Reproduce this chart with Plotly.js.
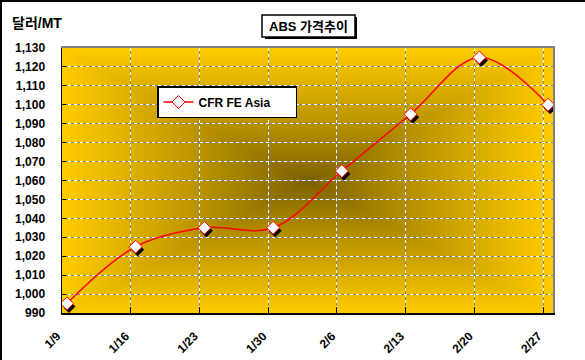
<!DOCTYPE html>
<html><head><meta charset="utf-8">
<script src="https://cdn.plot.ly/plotly-3.0.1.min.js"></script>
<style>
html,body{margin:0;padding:0;background:#fff;}
#wrap{position:relative;width:585px;height:360px;}
#chart{width:585px;height:360px;}
#frame{position:absolute;left:0;top:0;width:585px;height:360px;border-top:2px solid #000;border-left:2px solid #000;box-sizing:border-box;pointer-events:none;}
</style>
</head><body>
<div id="wrap"><div id="chart"></div><div id="frame"></div></div>
<script>
// ---- data ----
const tickDates = ['2008-01-09','2008-01-16','2008-01-23','2008-01-30','2008-02-06','2008-02-13','2008-02-20','2008-02-27'];
const tickLabels = ['1/9','1/16','1/23','1/30','2/6','2/13','2/20','2/27'];
const pointDates = ['2008-01-09 12:00','2008-01-16 12:00','2008-01-23 12:00','2008-01-30 12:00','2008-02-06 12:00','2008-02-13 12:00','2008-02-20 12:00','2008-02-27 12:00'];
const prices = [995, 1025, 1035, 1035, 1065, 1095, 1125, 1100];
const seriesName = 'CFR FE Asia';
const chartTitle = 'ABS 가격추이';
const yUnit = '달러/MT';
const xRange = ['2008-01-09','2008-02-28'];
const yRange = [990, 1130];

// ---- gradient background (rectangular "from center") ----
function gradientURL(w, h) {
  const c = document.createElement('canvas');
  c.width = w; c.height = h;
  const ctx = c.getContext('2d');
  const img = ctx.createImageData(w, h);
  const c0 = [122, 95, 0], c1 = [255, 204, 0];
  const cx = w / 2, cy = h / 2;
  for (let y = 0; y < h; y++) {
    for (let x = 0; x < w; x++) {
      let t = Math.max(Math.abs(x - cx) / cx, Math.abs(y - cy) / cy);
      t = Math.pow(Math.min(1, t), 0.9);
      const i = (y * w + x) * 4;
      img.data[i]   = c0[0] + (c1[0] - c0[0]) * t;
      img.data[i+1] = c0[1] + (c1[1] - c0[1]) * t;
      img.data[i+2] = c0[2] + (c1[2] - c0[2]) * t;
      img.data[i+3] = 255;
    }
  }
  ctx.putImageData(img, 0, 0);
  return c.toDataURL('image/png');
}

const W = 493, H = 268;
const px = v => (v - 62) / W;      // pixel -> paper x
const py = v => (316 - v) / H;     // pixel -> paper y
const FONT = '"Liberation Sans", Arial, "Noto Sans CJK KR", sans-serif';
const KFONT = '"Liberation Sans", "Noto Sans CJK KR", sans-serif';

const traces = [
  { // marker shadow (offset subplot)
    x: pointDates, y: prices, xaxis: 'x', yaxis: 'y', type: 'scatter', mode: 'markers',
    marker: { symbol: 'diamond', size: 10, color: '#000' },
    showlegend: false, hoverinfo: 'skip'
  },
  { // anchors the grid subplot (invisible)
    x: pointDates, y: prices, xaxis: 'x2', yaxis: 'y2', type: 'scatter', mode: 'markers',
    marker: { size: 1, opacity: 0 }, showlegend: false, hoverinfo: 'skip'
  },
  {
    x: pointDates, y: prices, xaxis: 'x3', yaxis: 'y3', type: 'scatter', mode: 'lines+markers',
    name: seriesName,
    line: { color: '#ff0000', width: 1.5, shape: 'spline', smoothing: 1 },
    marker: { symbol: 'diamond', size: 10, color: '#ffffff', line: { color: '#ff0000', width: 1 } }
  }
];

const layout = {
  width: 585, height: 360,
  margin: { l: 62, r: 30, t: 48, b: 44 },
  paper_bgcolor: '#ffffff', plot_bgcolor: 'rgba(0,0,0,0)',
  font: { family: FONT, color: '#000' },
  showlegend: true,
  xaxis: { domain: [2 / W, 1], anchor: 'y', type: 'date', range: xRange, visible: false },
  yaxis: { domain: [0, 1 - 3 / H], anchor: 'x', range: yRange, visible: false },
  xaxis2: {
    domain: [0, 491 / W], anchor: 'y2', type: 'date', range: xRange,
    tickmode: 'array', tickvals: tickDates, ticktext: tickLabels, tickangle: -45,
    showgrid: true, gridcolor: '#808080', gridwidth: 1,
    showline: true, linecolor: '#000', linewidth: 1.5,
    ticks: 'inside', ticklen: 6, tickcolor: '#000', tickwidth: 1,
    ticklabelstandoff: 10, ticklabelshift: -5,
    tickfont: { size: 12, weight: 'bold', family: FONT, color: '#000' }, zeroline: false
  },
  yaxis2: {
    domain: [3 / H, 1], anchor: 'x2', range: yRange, tickmode: 'linear', tick0: 990, dtick: 10,
    tickformat: ',', showgrid: true, gridcolor: '#808080', gridwidth: 1,
    showline: true, linecolor: '#000', linewidth: 1.5,
    ticks: 'inside', ticklen: 4, tickcolor: '#000',
    ticklabelstandoff: 13,
    tickfont: { size: 12, weight: 'bold', family: FONT, color: '#000' }, zeroline: false
  },
  xaxis3: {
    overlaying: 'x2', anchor: 'y3', side: 'top', type: 'date', range: xRange,
    tickmode: 'array', tickvals: tickDates, showticklabels: false, ticks: '',
    showgrid: true, gridcolor: '#ffffff', gridwidth: 1, griddash: '3px,3px',
    showline: true, linecolor: '#808080', linewidth: 2, zeroline: false
  },
  yaxis3: {
    overlaying: 'y2', anchor: 'x3', side: 'right', range: yRange, tickmode: 'linear', tick0: 990, dtick: 10,
    showticklabels: false, ticks: '',
    showgrid: true, gridcolor: '#ffffff', gridwidth: 1, griddash: '3px,3px',
    showline: true, linecolor: '#808080', linewidth: 2, zeroline: false
  },
  legend: {
    x: px(157), y: py(86), xanchor: 'left', yanchor: 'top', orientation: 'h',
    entrywidth: 92, bgcolor: '#ffffff', bordercolor: '#000', borderwidth: 1.5,
    font: { size: 12, weight: 'bold', family: FONT, color: '#000' }, itemwidth: 30
  },
  images: [{
    source: gradientURL(491, 265), xref: 'paper', yref: 'paper',
    x: 0, y: 1, sizex: 491 / W, sizey: 265 / H, xanchor: 'left', yanchor: 'top',
    sizing: 'stretch', layer: 'below'
  }],
  shapes: [
    { type: 'rect', xref: 'paper', yref: 'paper', x0: px(265), x1: px(357), y0: py(17), y1: py(39),
      fillcolor: '#000', line: { width: 0 } },
    { type: 'rect', xref: 'paper', yref: 'paper', x0: px(262), x1: px(355), y0: py(15), y1: py(37),
      fillcolor: '#fff', line: { color: '#000', width: 1.5 } }
  ],
  annotations: [
    { text: yUnit, xref: 'paper', yref: 'paper', x: px(10), y: py(13),
      xanchor: 'left', yanchor: 'top', showarrow: false,
      font: { size: 14, weight: 'bold', family: KFONT, color: '#000' } },
    { text: chartTitle, xref: 'paper', yref: 'paper', x: px(308.5), y: py(26),
      xanchor: 'center', yanchor: 'middle', showarrow: false,
      font: { size: 13, weight: 'bold', family: KFONT, color: '#000' } }
  ]
};

Plotly.newPlot('chart', traces, layout, { staticPlot: true, displayModeBar: false });
</script>
</body></html>
